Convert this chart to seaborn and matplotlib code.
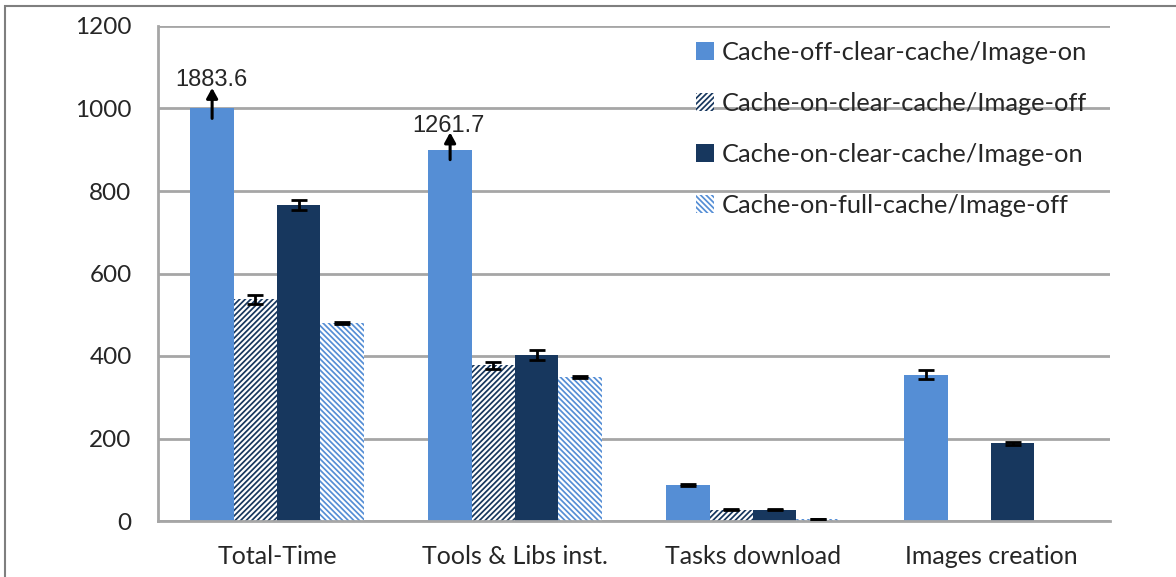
import numpy as np
import pandas as pd
import matplotlib
matplotlib.use("Agg")
import matplotlib.pyplot as plt
import seaborn as sns
from matplotlib.patches import Rectangle

# ---- data -------------------------------------------------------------
categories = ["Total-Time", "Tools & Libs inst.", "Tasks download", "Images creation"]
series = [
    "Cache-off-clear-cache/Image-on",
    "Cache-on-clear-cache/Image-off",
    "Cache-on-clear-cache/Image-on",
    "Cache-on-full-cache/Image-off",
]

off_clear_img_on = [1883.6, 1261.7, 88, 355]
on_clear_img_off = [537, 377, 27, np.nan]
on_clear_img_on = [765, 403, 27, 188]
on_full_img_off = [480, 349, 5, np.nan]

err_off_clear_img_on = [np.nan, np.nan, 2, 10]
err_on_clear_img_off = [10, 9, 1, np.nan]
err_on_clear_img_on = [12, 12, 1.5, 4]
err_on_full_img_off = [3, 2, 1, np.nan]

# bars that exceed the axis are drawn broken at these heights
break_at = [1000, 900, np.nan, np.nan]

# ---- styling ----------------------------------------------------------
LIGHT = "#558ED5"
NAVY = "#17375E"
GRID = "#A6A6A6"
colors = [LIGHT, NAVY, NAVY, LIGHT]
hatches = [None, "//////", None, "\\\\\\\\\\\\"]

sns.set_style("white")
plt.rcParams["font.family"] = ["Lato", "DejaVu Sans"]
plt.rcParams["hatch.linewidth"] = 1.25

values = [off_clear_img_on, on_clear_img_off, on_clear_img_on, on_full_img_off]
errors = [err_off_clear_img_on, err_on_clear_img_off, err_on_clear_img_on, err_on_full_img_off]

rows = []
for s, vals in zip(series, values):
    for i, (c, v) in enumerate(zip(categories, vals)):
        shown = v
        if s == series[0] and not np.isnan(break_at[i]):
            shown = min(v, break_at[i])
        rows.append({"category": c, "series": s, "value": shown})
df = pd.DataFrame(rows).dropna()

fig = plt.figure(figsize=(11.76, 5.77), dpi=100)
ax = fig.add_axes([158 / 1176, 1 - 521 / 577, (1110 - 158) / 1176, (521 - 26) / 577])

sns.barplot(
    data=df, x="category", y="value", hue="series",
    order=categories, hue_order=series, palette=colors,
    width=0.727, errorbar=None, legend=False, linewidth=0, ax=ax,
    saturation=1,
)
bar_groups = list(ax.containers)

# hatched series: white fill with coloured stripes
for cont, col, h in zip(bar_groups, colors, hatches):
    for p in cont.patches:
        if h:
            p.set_facecolor("white")
            p.set_edgecolor(col)
            p.set_hatch(h)
            p.set_linewidth(0)

# error bars at the centre of each bar
for cont, vals, errs in zip(bar_groups, values, errors):
    patches = list(cont.patches)
    xs, ys, es = [], [], []
    k = 0
    for i, v in enumerate(vals):
        if np.isnan(v):
            continue
        p = patches[k]
        k += 1
        e = errs[i]
        if np.isnan(e):
            continue
        xs.append(p.get_x() + p.get_width() / 2)
        ys.append(p.get_height())
        es.append(e)
    if xs:
        ax.errorbar(xs, ys, yerr=es, fmt="none", ecolor="black",
                    elinewidth=2, capsize=6, capthick=2, zorder=5)

# arrows and value labels on the broken bars
arrow_len = {0: 50, 1: 42}
label_gap = {0: 68, 1: 58}
first = list(bar_groups[0].patches)
for i, v in enumerate(off_clear_img_on):
    if np.isnan(break_at[i]):
        continue
    p = first[i]
    x = p.get_x() + p.get_width() / 2
    top = break_at[i]
    ax.annotate("", xy=(x, top + arrow_len[i]), xytext=(x, top - 24),
                arrowprops=dict(arrowstyle="-|>,head_length=0.6,head_width=0.33",
                                lw=2.2, color="black", shrinkA=0, shrinkB=0),
                zorder=6)
    ax.text(x - 0.005, top + label_gap[i], f"{v:.1f}", ha="center", va="center",
            fontsize=17, family=["Liberation Sans", "DejaVu Sans"], zorder=6)

# axes, grid and ticks
ax.set_ylim(0, 1200)
ax.set_xlim(-0.5, 3.5)
ax.set_yticks(np.arange(0, 1201, 200))
ax.yaxis.grid(True, color=GRID, lw=2)
ax.set_axisbelow(True)
for side in ["top", "right"]:
    ax.spines[side].set_visible(False)
for side in ["left", "bottom"]:
    ax.spines[side].set_color(GRID)
    ax.spines[side].set_linewidth(2)
ax.set_xlabel("")
ax.set_ylabel("")
ax.set_xticks(np.arange(len(categories)))
ax.set_xticklabels(categories)
ax.set_xticks(np.arange(-0.5, len(categories)), minor=True)
ax.tick_params(axis="x", which="major", length=0, pad=17, labelsize=18)
ax.tick_params(axis="x", which="minor", length=7, width=2, color=GRID, direction="out")
ax.tick_params(axis="y", length=6, width=2, color=GRID, direction="out", pad=13, labelsize=17.5)

# legend with the same bar styles
handles = [cont.patches[0] for cont in bar_groups]
leg = fig.legend(handles, series, loc="upper left",
                 bbox_to_anchor=(696 / 1176, 1 - 41 / 577),
                 frameon=False, fontsize=18.3, handlelength=0.7, handleheight=0.7,
                 handletextpad=0.3, labelspacing=1.1, borderpad=0, borderaxespad=0)

# outer frame
fig.add_artist(Rectangle((5 / 1176, -0.1), 1.2, 1.1 - 6 / 577,
                         transform=fig.transFigure, fill=False,
                         edgecolor="#7F7F7F", lw=1.5))

fig.savefig("out.png", dpi=100)
